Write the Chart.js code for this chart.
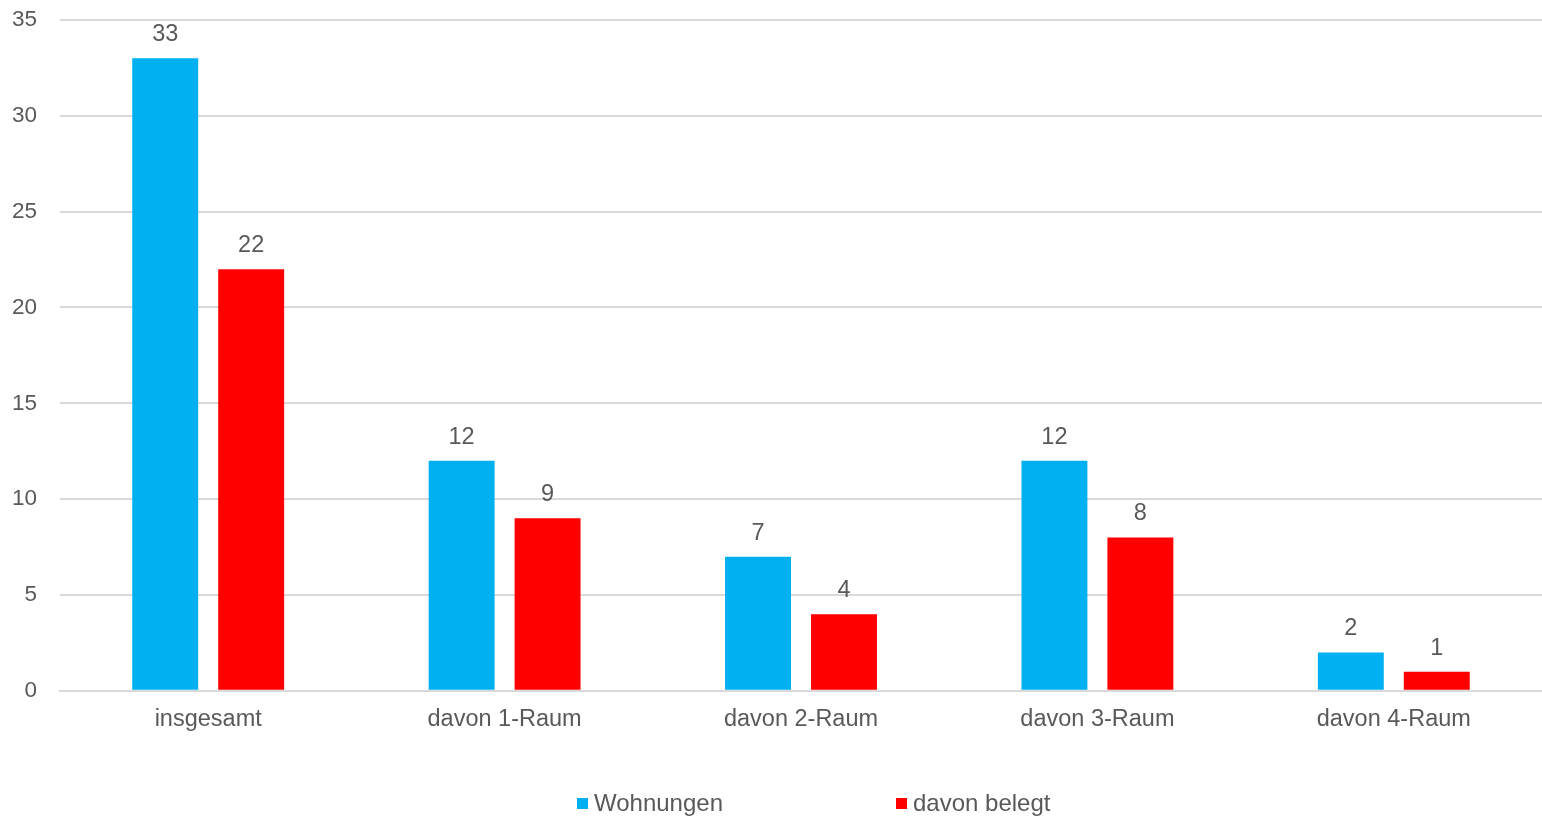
<!DOCTYPE html>
<html>
<head>
<meta charset="utf-8">
<script src="https://cdn.jsdelivr.net/npm/chart.js@4"></script>
<style>
  html, body { margin: 0; padding: 0; background: #fff; }
  #wrap { width: 1542px; height: 816px; }
</style>
</head>
<body>
<div id="wrap"><canvas id="grafico"></canvas></div>
<script>
const categories = ['insgesamt', 'davon 1-Raum', 'davon 2-Raum', 'davon 3-Raum', 'davon 4-Raum']
const wohnungen = [33, 12, 7, 12, 2]
const belegt = [22, 9, 4, 8, 1]
const seriesNames = ['Wohnungen', 'davon belegt']
const yTicks = [0, 5, 10, 15, 20, 25, 30, 35]

const textColor = '#595959'
const fontFamily = '"Liberation Sans", Arial, sans-serif'

Chart.defaults.color = textColor
Chart.defaults.font.family = fontFamily
Chart.defaults.font.size = 22

// Zahlen über den Balken
const valueLabels = {
  id: 'valueLabels',
  afterDatasetsDraw(chart) {
    const c = chart.ctx
    c.save()
    c.font = '23.5px ' + fontFamily
    c.fillStyle = textColor
    c.textAlign = 'center'
    c.textBaseline = 'alphabetic'
    chart.data.datasets.forEach((ds, i) => {
      chart.getDatasetMeta(i).data.forEach((bar, j) => {
        c.fillText(ds.data[j], bar.x, bar.y - 17)
      })
    })
    c.restore()
  }
}

// Legende unten, weit auseinander wie im Original
const bottomLegend = {
  id: 'bottomLegend',
  afterDraw(chart) {
    const c = chart.ctx
    const starts = [577, 896]
    const y = 803
    c.save()
    c.font = '24px ' + fontFamily
    c.textBaseline = 'middle'
    c.textAlign = 'left'
    chart.data.datasets.forEach((ds, i) => {
      c.fillStyle = ds.backgroundColor
      c.fillRect(starts[i], y - 5, 11, 11)
      c.fillStyle = textColor
      c.fillText(ds.label, starts[i] + 17, y + 1)
    })
    c.restore()
  }
}

const data = {
  labels: categories,
  datasets: [
    { label: seriesNames[0], data: wohnungen, backgroundColor: '#00B0F0' },
    { label: seriesNames[1], data: belegt, backgroundColor: '#FF0000' }
  ]
}

const config = {
  type: 'bar',
  data,
  options: {
    responsive: true,
    maintainAspectRatio: false,
    animation: false,
    datasets: {
      bar: { categoryPercentage: 0.58, barPercentage: 0.767 }
    },
    layout: { padding: { top: 20, right: 0, left: 0, bottom: 67 } },
    plugins: {
      legend: { display: false },
      tooltip: { enabled: false }
    },
    scales: {
      x: {
        grid: { display: false, drawTicks: false },
        border: { display: true, color: '#d9d9d9', width: 2 },
        ticks: { padding: 15, color: textColor, font: { size: 23.5 } }
      },
      y: {
        min: 0,
        max: 35,
        afterFit(scale) {
          scale.width = 60
          scale.paddingTop = 0
          scale.paddingBottom = 0
        },
        afterBuildTicks(scale) { scale.ticks = yTicks.map(v => ({ value: v })) },
        grid: { color: '#d9d9d9', lineWidth: 2, drawTicks: false },
        border: { display: false },
        ticks: { padding: 23, color: textColor, font: { size: 22.5 } }
      }
    }
  },
  plugins: [valueLabels, bottomLegend]
}

const graph = new Chart(document.getElementById('grafico'), config)
</script>
</body>
</html>
